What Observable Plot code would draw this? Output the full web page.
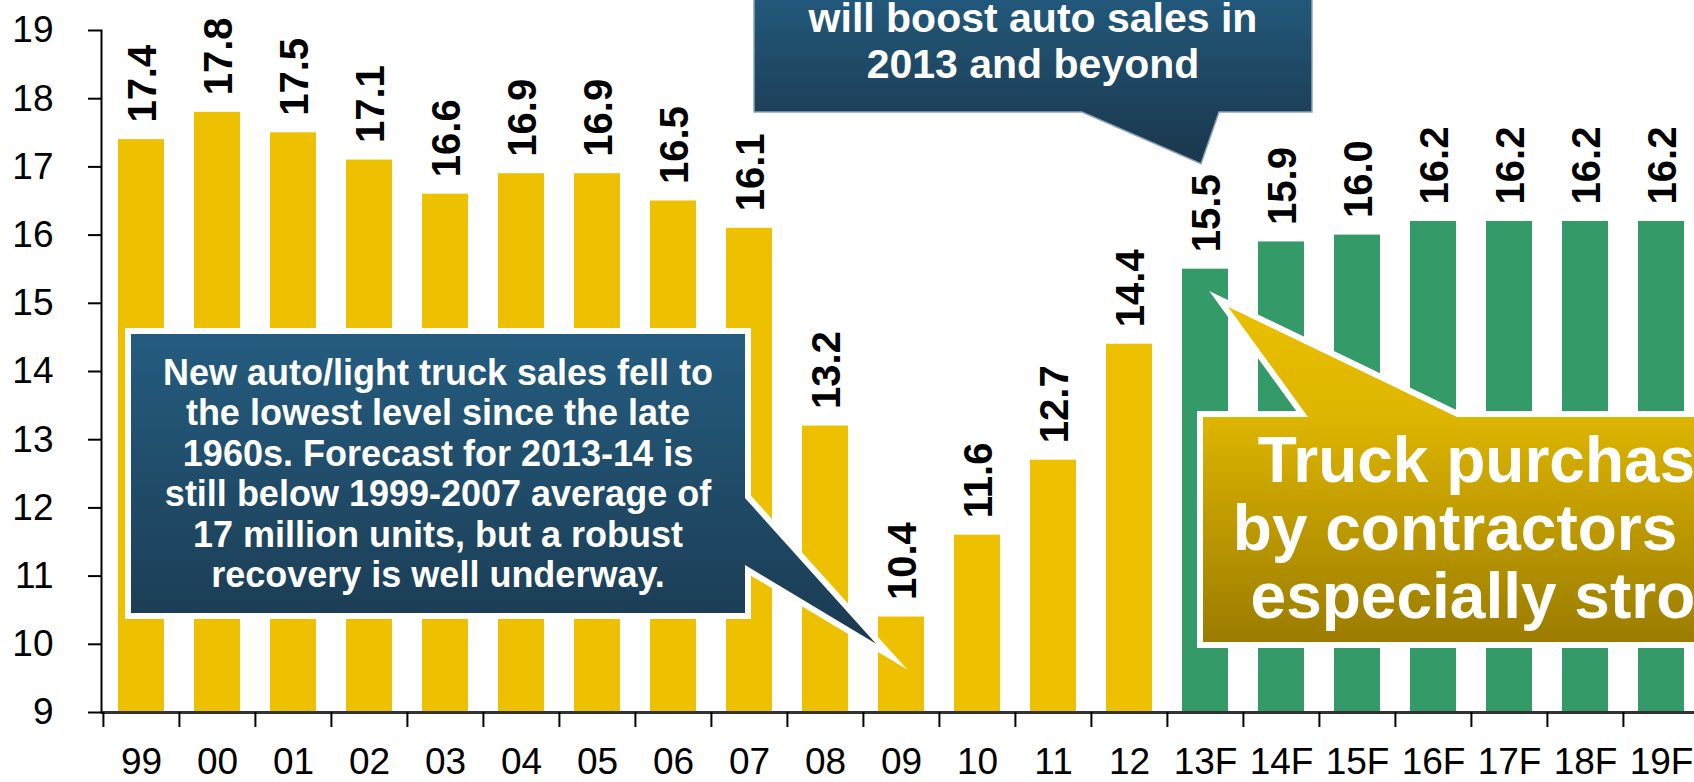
<!DOCTYPE html>
<html><head><meta charset="utf-8">
<script src="https://cdn.jsdelivr.net/npm/d3@7"></script>
<script src="https://cdn.jsdelivr.net/npm/@observablehq/plot@0.6"></script>
<style>
html,body{margin:0;padding:0;background:#fff;overflow:hidden;width:1694px;height:782px}
#chart svg{max-width:none;display:block}
</style></head><body><div id="chart"></div>
<script>
// ---- data ----
const years = ["99","00","01","02","03","04","05","06","07","08","09","10","11","12","13F","14F","15F","16F","17F","18F","19F"];
const sales = [17.4,17.8,17.5,17.1,16.6,16.9,16.9,16.5,16.1,13.2,10.4,11.6,12.7,14.4,15.5,15.9,16.0,16.2,16.2,16.2,16.2];
const kinds = ["actual","actual","actual","actual","actual","actual","actual","actual","actual","actual","actual","actual","actual","actual","forecast","forecast","forecast","forecast","forecast","forecast","forecast"];
const yTicks = [9,10,11,12,13,14,15,16,17,18,19];
const kindColors = ["#EDC100","#349A67"];

const noteLeft = ["New auto/light truck sales fell to","the lowest level since the late","1960s. Forecast for 2013-14 is","still below 1999-2007 average of","17 million units, but a robust","recovery is well underway."];
const noteTop = ["will boost auto sales in","2013 and beyond"];
const noteGold = ["Truck purchases","by contractors are","especially strong"];

const data = years.map((y, i) => ({year: y, value: sales[i], kind: kinds[i]}));

const W = 1694, H = 782;
const left = 101, right = 1701;
const step = (right - left) / years.length;
const font = "'Liberation Sans', Arial, sans-serif";

const plot = Plot.plot({
  width: W, height: H,
  marginTop: 30, marginBottom: 70, marginLeft: left, marginRight: W - right,
  style: {fontFamily: font, background: "#fff", overflow: "hidden"},
  x: {type: "band", domain: years, range: [left, right], paddingInner: 0.39, paddingOuter: 0.195},
  y: {domain: [9, 19], range: [712, 30]},
  color: {domain: ["actual","forecast"], range: kindColors},
  marks: [
    Plot.barY(data, {x: "year", y1: 9, y2: "value", fill: "kind"}),
    Plot.text(data, {x: "year", y: "value", text: d => d.value.toFixed(1), rotate: -90, textAnchor: "start", dy: -17, dx: 2, fontSize: 40, fontWeight: "bold", fill: "#000"}),
    Plot.ruleY([9], {stroke: "#333", strokeWidth: 3}),
    Plot.frame({anchor: "left", stroke: "#000", strokeWidth: 2}),
    Plot.axisY(yTicks, {anchor: "left", tickSize: 13, tickPadding: 35, tickFormat: d => String(d), fontSize: 37, stroke: "#000", strokeWidth: 2, fill: "#000", label: null}),
    Plot.axisX(years, {anchor: "bottom", tickSize: 15, tickFormat: () => "", dx: -step / 2, stroke: "#000", strokeWidth: 2, label: null}),
    Plot.axisX(years, {anchor: "bottom", tickSize: 0, tickPadding: 35, fontSize: 37, fill: "#000", label: null})
  ]
});
document.getElementById("chart").appendChild(plot);

// ---- callouts ----
const X = plot.scale("x"), Y = plot.scale("y");
const svg = d3.select(plot);
const defs = svg.append("defs");
function grad(id, y1, y2, stops) {
  const g = defs.append("linearGradient").attr("id", id).attr("gradientUnits", "userSpaceOnUse")
    .attr("x1", 0).attr("x2", 0).attr("y1", y1).attr("y2", y2);
  stops.forEach(([o, c]) => g.append("stop").attr("offset", o).attr("stop-color", c));
}
grad("gBlueL", 334, 644, [[0, "#245C7F"], [0.9, "#1C3E56"], [1, "#1A384D"]]);
grad("gBlueT", -40, 163, [[0, "#24608A"], [0.2, "#22587A"], [0.75, "#1D4059"], [1, "#1A384D"]]);
grad("gGold", 300, 642, [[0, "#EBC000"], [0.34, "#DEB500"], [1, "#9B7C00"]]);

const g = svg.append("g");
function callout(d, fill, stroke, sw) {
  g.append("path").attr("d", d).attr("fill", "none").attr("stroke", stroke).attr("stroke-width", sw)
    .attr("stroke-linejoin", "miter").attr("stroke-miterlimit", 30);
  g.append("path").attr("d", d).attr("fill", fill);
}
function lines(arr, cx, y0, dy, size) {
  arr.forEach((t, i) => g.append("text").attr("x", cx).attr("y", y0 + i * dy).attr("text-anchor", "middle")
    .attr("fill", "#fff").attr("font-weight", "bold").attr("font-size", size).attr("font-family", font).text(t));
}

// left callout pointing at 2009 low
{
  const L = 131, R = 745, T = 334, B = 613;
  const tx = X.apply("09") - 2, ty = Y.apply(10.0);
  const d = `M${L},${T}H${R}V498L${tx},${ty}L${R},565V${B}H${L}Z`;
  callout(d, "url(#gBlueL)", "#fff", 12);
  lines(noteLeft, (L + R) / 2, 385, 40.4, 36);
}
// top callout pointing at 2013 forecast
{
  const L = 754, R = 1312, T = -40, B = 112;
  const tx = X.apply("13F") + X.bandwidth / 2 - 4, ty = Y.apply(15.5) - 105;
  const d = `M${L},${T}H${R}V${B}H1219L${tx},${ty}L1082,${B}H${L}Z`;
  g.append("path").attr("d", d).attr("fill", "url(#gBlueT)").attr("stroke", "#8AA5B9").attr("stroke-width", 1.5);
  lines(noteTop, (L + R) / 2, 32, 46, 41);
}
// gold callout pointing at 2013 forecast bar
{
  const L = 1203, R = 1780, T = 417, B = 642;
  const tx = X.apply("13F") + X.bandwidth, ty = Y.apply(15.5) + 38;
  const d = `M${L},${T}H1308L${tx},${ty}L1457,${T}H${R}V${B}H${L}Z`;
  callout(d, "url(#gGold)", "#fff", 12);
  lines(noteGold, 1512, 482, 68, 64);
}
</script></body></html>
